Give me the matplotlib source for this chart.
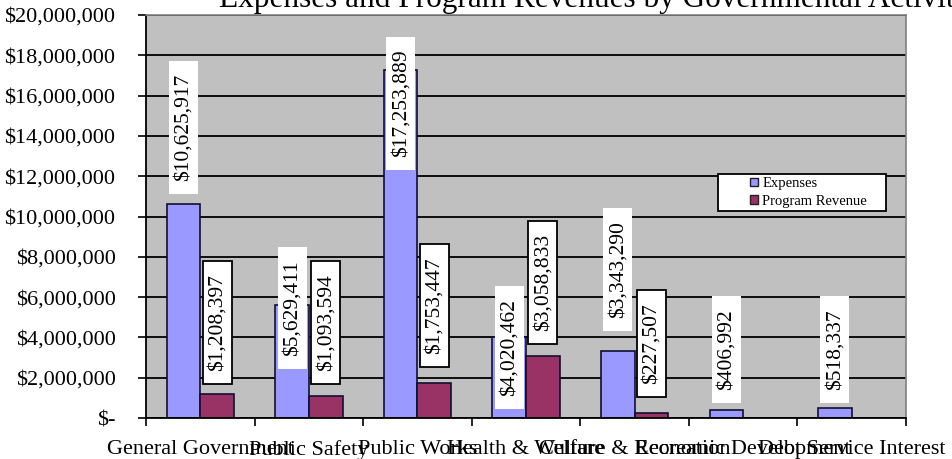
import matplotlib.pyplot as plt
from matplotlib.patches import Rectangle, Patch
from matplotlib.ticker import FuncFormatter, FixedLocator
import numpy as np

plt.rcParams['font.family'] = ['Liberation Serif', 'DejaVu Serif']

categories = ["General Government", "Public Safety", "Public Works", "Health & Welfare",
              "Culture & Recreation", "Economic Development", "Debt Service Interest"]
expenses = [10625917, 5629411, 17253889, 4020462, 3343290, 406992, 518337]
revenue = [1208397, 1093594, 1753447, 3058833, 227507, 0, 0]

# where the bottom of each value box sits (chart units)
exp_label_base = [11.1e6, 2.44e6, 12.3e6, 0.45e6, 4.33e6, 0.75e6, 0.75e6]
rev_label_base = [1.69e6, 1.69e6, 2.54e6, 3.68e6, 1.04e6, None, None]

EXP_COLOR = "#9999FF"
REV_COLOR = "#993366"


def money(v, pos=None):
    if v == 0:
        return "$-"
    return "${:,.0f}".format(v)


fig = plt.figure(figsize=(9.52, 4.59), dpi=100)
ax = fig.add_axes([0.1534, 0.0893, 0.7983, 0.878])
ax.set_facecolor("#C0C0C0")

x = np.arange(len(categories))
w = 0.31
ax.bar(x - w / 2, expenses, w, color=EXP_COLOR, edgecolor="#101030", linewidth=1.2, zorder=2)
ax.bar(x + w / 2, revenue, w, color=REV_COLOR, edgecolor="#101030", linewidth=1.2, zorder=2)

ax.set_ylim(0, 20e6)
ax.set_xlim(-0.5, len(categories) - 0.5)
ax.yaxis.set_major_locator(FixedLocator(np.arange(0, 20e6 + 1, 2e6)))
ax.yaxis.set_major_formatter(FuncFormatter(money))
ax.grid(axis="y", color="black", linewidth=1.3, zorder=1)
ax.set_axisbelow(True)

ax.set_xticks(x)
ax.set_xticklabels(categories, fontsize=16)
ax.set_xticks(np.arange(-0.5, len(categories)), minor=True)
ax.tick_params(axis="x", which="major", length=0, pad=16)
ax.tick_params(axis="x", which="minor", length=6, width=1.2, direction="out")
ax.tick_params(axis="y", length=6, width=1.2, direction="out", labelsize=16, pad=16)

for side in ["left", "bottom"]:
    ax.spines[side].set_color("black")
    ax.spines[side].set_linewidth(1.3)
for side in ["top", "right"]:
    ax.spines[side].set_color("#808080")
    ax.spines[side].set_linewidth(1.2)

# value labels, white boxes; revenue ones get a black outline
labels = []
for i in range(len(categories)):
    pairs = [(x[i] - w / 2, expenses[i], exp_label_base[i], None),
             (x[i] + w / 2, revenue[i], rev_label_base[i], "black")]
    for xi, val, base, edge in pairs:
        if base is None:
            continue
        t = ax.annotate(money(val), xy=(xi, base), xytext=(0, 13), textcoords="offset pixels",
                        rotation=90, ha="center", va="bottom", fontsize=15.5, zorder=5)
        labels.append((t, edge))

fig.canvas.draw()
renderer = fig.canvas.get_renderer()
inv = ax.transData.inverted()
for t, edge in labels:
    bb = t.get_window_extent(renderer)
    x0, y0 = inv.transform((bb.x0 - 5, bb.y0 - 13))
    x1, y1 = inv.transform((bb.x1 + 5, bb.y1 + 13))
    ax.add_patch(Rectangle((x0, y0), x1 - x0, y1 - y0, facecolor="white",
                           edgecolor=edge if edge else "none", linewidth=1.3, zorder=4))

# legend box
ax.add_patch(Rectangle((0.7526, 0.5136), 0.2211, 0.0919, transform=ax.transAxes,
                       facecolor="white", edgecolor="black", linewidth=1.3, zorder=6))
handles = [Patch(facecolor=EXP_COLOR, edgecolor="#202020", label="Expenses"),
           Patch(facecolor=REV_COLOR, edgecolor="#202020", label="Program Revenue")]
leg = ax.legend(handles=handles, loc="center left", bbox_to_anchor=(0.785, 0.56), frameon=False,
                fontsize=10.5, handlelength=0.55, handleheight=0.55, handletextpad=0.3,
                labelspacing=0.3, borderpad=0)
leg.set_zorder(7)

fig.text(219 / 952, 1 - 7 / 459, "Expenses and Program Revenues by Governmental Activities",
         fontsize=22.5, ha="left", va="baseline")

fig.savefig("out.png", dpi=100)
